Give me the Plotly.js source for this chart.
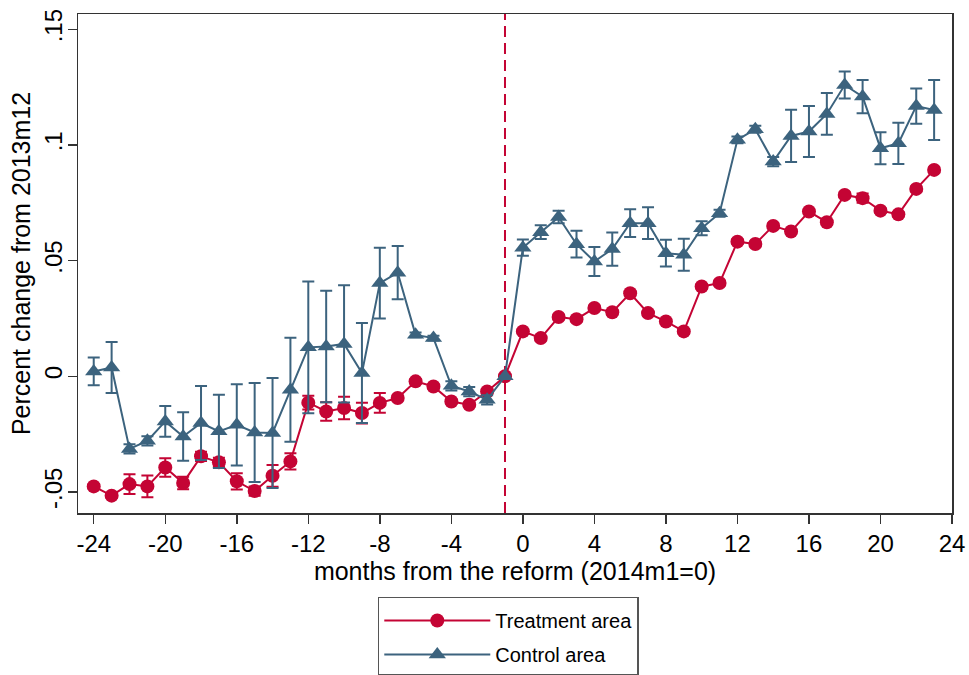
<!DOCTYPE html>
<html>
<head>
<meta charset="utf-8">
<script src="https://cdn.plot.ly/plotly-3.0.1.min.js"></script>
<style>
html,body{margin:0;padding:0;background:#fff;}
#chart{width:969px;height:675px;}
</style>
</head>
<body>
<div id="chart"></div>
<script>
const months = [-24,-23,-22,-21,-20,-19,-18,-17,-16,-15,-14,-13,-12,-11,-10,-9,-8,-7,-6,-5,-4,-3,-2,-1,
  0,1,2,3,4,5,6,7,8,9,10,11,12,13,14,15,16,17,18,19,20,21,22,23];

const treatment = [-0.0476,-0.0516,-0.0466,-0.0476,-0.0394,-0.0461,-0.0346,-0.0372,-0.0454,-0.0496,-0.0430,-0.0368,
  -0.0114,-0.0152,-0.0137,-0.0159,-0.0115,-0.0094,-0.0022,-0.0044,-0.0109,-0.0123,-0.0066,0,
  0.0194,0.0165,0.0256,0.0247,0.0295,0.0277,0.0359,0.0273,0.0237,0.0194,0.0388,0.0403,
  0.0582,0.0572,0.0650,0.0626,0.0712,0.0666,0.0784,0.0770,0.0716,0.0700,0.0810,0.0892];

const treatmentErr = [0.001,0.001,0.0043,0.0047,0.004,0.0027,0.002,0.002,0.0035,0.002,0.0047,0.0035,
  0.003,0.004,0.0049,0.0045,0.0043,0.001,0.001,0.001,0.001,0.001,0.001,0,
  0.001,0.001,0.001,0.001,0.001,0.001,0.001,0.001,0.001,0.001,0.001,0.001,
  0.001,0.001,0.001,0.001,0.001,0.001,0.001,0.002,0.001,0.001,0.001,0.001];

const control = [0.0021,0.0038,-0.0314,-0.0279,-0.0195,-0.0260,-0.0202,-0.0238,-0.0210,-0.0243,-0.0245,-0.0058,
  0.0125,0.0129,0.0140,0.0014,0.0403,0.0448,0.0179,0.0165,-0.0041,-0.0066,-0.0102,0,
  0.0556,0.0623,0.0688,0.0571,0.0496,0.0550,0.0662,0.0662,0.0532,0.0525,0.0640,0.0705,
  0.1022,0.1068,0.0928,0.1039,0.1058,0.1134,0.1259,0.1209,0.0986,0.1007,0.1168,0.1151];

const controlErr = [0.006,0.011,0.002,0.002,0.0066,0.0105,0.016,0.0158,0.0176,0.0214,0.0238,0.0225,
  0.0285,0.0241,0.0253,0.0216,0.0153,0.0115,0.001,0.001,0.002,0.002,0.002,0,
  0.0035,0.003,0.0027,0.0058,0.0063,0.0072,0.006,0.0069,0.0058,0.0069,0.003,0.0015,
  0.0015,0.0015,0.002,0.0113,0.011,0.009,0.0058,0.0072,0.0069,0.0089,0.0076,0.013];

const xTicks = [-24,-20,-16,-12,-8,-4,0,4,8,12,16,20,24];
const yTicks = [-0.05,0,0.05,0.1,0.15];
const yTickText = ['-.05','0','.05','.1','.15'];
const reformMonth = -1;

const red = 'rgb(196,4,52)';
const blue = 'rgb(60,99,126)';
const fontFam = '"Liberation Sans", Arial, sans-serif';

const traces = [
  {
    x: months, y: treatment, type: 'scatter', mode: 'lines+markers', name: 'Treatment area',
    legendgroup: 'g1',
    line: {color: red, width: 2},
    marker: {symbol: 'circle', size: 14, color: red},
    error_y: {type: 'data', array: treatmentErr, visible: true, color: red, thickness: 2, width: 6}
  },
  {
    x: months, y: control, type: 'scatter', mode: 'lines+markers', name: 'Control area',
    legendgroup: 'g2',
    line: {color: blue, width: 2},
    marker: {symbol: 'triangle-up', size: 15, color: blue},
    error_y: {type: 'data', array: controlErr, visible: true, color: blue, thickness: 2, width: 6}
  }
];

const layout = {
  width: 969, height: 675,
  margin: {l: 78, r: 17, t: 14, b: 162, autoexpand: false},
  paper_bgcolor: '#fff', plot_bgcolor: '#fff',
  font: {family: fontFam, color: '#000'},
  showlegend: true,
  legend: {
    x: 0.343, xanchor: 'left', y: -0.168, yanchor: 'top',
    bordercolor: '#555', borderwidth: 1.5, bgcolor: '#fff',
    font: {size: 20, family: fontFam},
    itemwidth: 106, tracegroupgap: 5,
    title: {text: ' ', font: {size: 2}}
  },
  xaxis: {
    range: [-24.88, 24], tickmode: 'array', tickvals: xTicks, ticktext: xTicks.map(String),
    showgrid: false, zeroline: false, showline: true, mirror: true, linecolor: '#333', linewidth: 1.5,
    ticks: 'outside', ticklen: 9, tickwidth: 1.5, tickcolor: '#333',
    tickfont: {size: 24, family: fontFam},
    title: {text: 'months from the reform (2014m1=0)', font: {size: 25, family: fontFam}, standoff: 6}
  },
  yaxis: {
    range: [-0.0591, 0.1566], tickmode: 'array', tickvals: yTicks, ticktext: yTickText,
    showgrid: false, zeroline: false, showline: true, mirror: true, linecolor: '#333', linewidth: 1.5,
    ticks: 'outside', ticklen: 9, tickwidth: 1.5, tickcolor: '#333', tickangle: -90,
    ticklabelstandoff: -4,
    tickfont: {size: 24, family: fontFam},
    title: {text: 'Percent change from 2013m12', font: {size: 25, family: fontFam}, standoff: 2}
  },
  shapes: [
    {type: 'line', xref: 'x', yref: 'paper', x0: reformMonth, x1: reformMonth, y0: 0, y1: 1,
     line: {color: red, width: 2, dash: '11px,6px'}, layer: 'below'}
  ]
};

Plotly.newPlot('chart', traces, layout, {displayModeBar: false, staticPlot: true});
</script>
</body>
</html>
